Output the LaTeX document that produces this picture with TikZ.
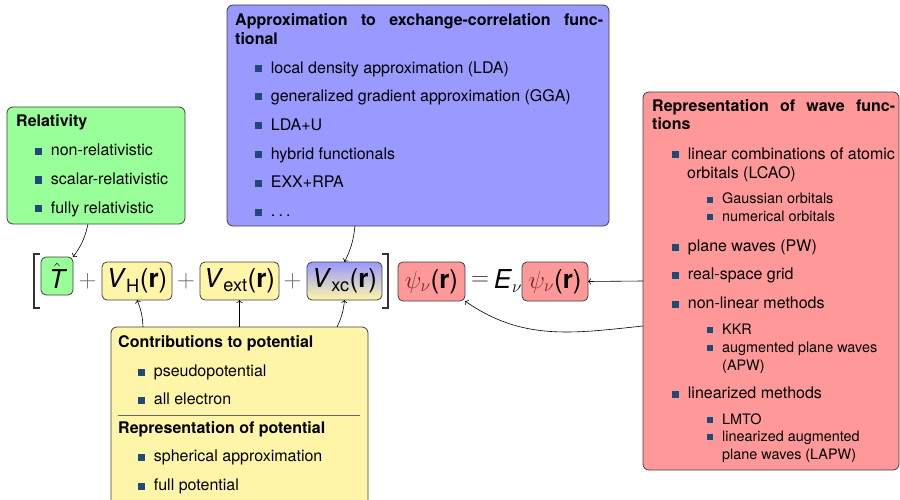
\documentclass[tikz,border=0pt]{standalone}
\usepackage{amsmath}
\usepackage{fontspec}
\setmainfont{TeX Gyre Heros}
\usetikzlibrary{arrows.meta}

\definecolor{relgreen}{HTML}{99FF99}
\definecolor{xcblue}{HTML}{9999FF}
\definecolor{wfred}{HTML}{FF9999}
\definecolor{potyellow}{HTML}{FFF5A8}
\definecolor{bulletblue}{HTML}{1F4A78}
\definecolor{psicol}{HTML}{6E2C2C}
\definecolor{framegray}{HTML}{404040}

% square item bullets
\newcommand{\sqbul}{\raisebox{1pt}{\textcolor{bulletblue}{\rule{7pt}{7pt}}}\hspace{8.7pt}}
\newcommand{\sqsub}{\raisebox{1pt}{\textcolor{bulletblue}{\rule{6pt}{6pt}}}\hspace{9pt}}

\begin{document}
\begin{tikzpicture}[x=1pt,y=-1pt,
  panel/.style={draw=framegray,line width=0.8pt,rounded corners=6pt,anchor=north west,inner sep=0pt,outer sep=0pt},
  itm/.style={anchor=base west,inner sep=0pt,font=\fontsize{16}{19}\selectfont},
  subitm/.style={anchor=base west,inner sep=0pt,font=\fontsize{14.4}{17}\selectfont},
  hdr/.style={anchor=base west,inner sep=0pt,font=\fontsize{16}{19}\selectfont\bfseries},
  eqbox/.style={draw=framegray,line width=0.8pt,rounded corners=5pt,inner sep=0pt,outer sep=0pt,minimum height=38pt,font=\fontsize{26}{30}\selectfont},
  eqsym/.style={inner sep=0pt,font=\fontsize{26}{30}\selectfont},
  conn/.style={->,line width=0.6pt}]
\useasboundingbox (0,0) rectangle (900,500);
\clip (0,0) rectangle (900,500);

% ---- relativity panel
\node[panel,fill=relgreen,minimum width=178pt,minimum height=117pt] (rel) at (7,107) {};
\node[hdr] (relT) at (16,127) {Relativity};
\node[itm] (rel1) at (35,156) {\sqbul non-relativistic};
\node[itm] (rel2) at (35,184.5) {\sqbul scalar-relativistic};
\node[itm] (rel3) at (35,213) {\sqbul fully relativistic};

% ---- exchange-correlation panel
\node[panel,fill=xcblue,minimum width=382pt,minimum height=221pt] (xc) at (227,5) {};
\node[hdr] (xcT1) at (235,26) {\makebox[368pt][s]{Approximation to exchange-correlation func-}};
\node[hdr] (xcT2) at (235,45) {tional};
\node[itm] (xc1) at (255,73.5) {\sqbul local density approximation (LDA)};
\node[itm] (xc2) at (255,101.5) {\sqbul generalized gradient approximation (GGA)};
\node[itm] (xc3) at (255,130.5) {\sqbul LDA+U};
\node[itm] (xc4) at (255,159.5) {\sqbul hybrid functionals};
\node[itm] (xc5) at (255,187.5) {\sqbul EXX+RPA};
\node[itm] (xc6) at (255,216.5) {\sqbul .\hspace{3.2pt}.\hspace{3.2pt}.};

% ---- wave function panel
\node[panel,fill=wfred,minimum width=256pt,minimum height=378pt] (wf) at (643,92) {};
\node[hdr] (wfT1) at (652,112) {\makebox[243pt][s]{Representation of wave func-}};
\node[hdr] (wfT2) at (652,130) {tions};
\node[itm] (wf1) at (672,159.5) {\sqbul linear combinations of atomic};
\node[itm] (wf1b) at (687,178.5) {orbitals (LCAO)};
\node[subitm] (wf1s1) at (707,204) {\sqsub Gaussian orbitals};
\node[subitm] (wf1s2) at (707,221) {\sqsub numerical orbitals};
\node[itm] (wf2) at (672,251.5) {\sqbul plane waves (PW)};
\node[itm] (wf3) at (672,279.5) {\sqbul real-space grid};
\node[itm] (wf4) at (672,308.5) {\sqbul non-linear methods};
\node[subitm] (wf4s1) at (707,334) {\sqsub KKR};
\node[subitm] (wf4s2) at (707,352) {\sqsub augmented plane waves};
\node[subitm] (wf4s2b) at (722,370) {(APW)};
\node[itm] (wf5) at (672,398.5) {\sqbul linearized methods};
\node[subitm] (wf5s1) at (707,424) {\sqsub LMTO};
\node[subitm] (wf5s2) at (707,441) {\sqsub linearized augmented};
\node[subitm] (wf5s2b) at (722,459) {plane waves (LAPW)};

% ---- potential panel
\node[panel,fill=potyellow,minimum width=257pt,minimum height=190pt] (pot) at (111,327) {};
\node[hdr] (potT1) at (118,347) {Contributions to potential};
\node[itm] (pot1) at (138,376.5) {\sqbul pseudopotential};
\node[itm] (pot2) at (138,404.5) {\sqbul all electron};
\draw[framegray!80,line width=0.8pt] (118,415) -- (360,415);
\node[hdr] (potT2) at (118,433) {Representation of potential};
\node[itm] (pot3) at (138,461.5) {\sqbul spherical approximation};
\node[itm] (pot4) at (138,490.5) {\sqbul full potential};

% ---- Kohn-Sham equation
\node[eqbox,fill=relgreen,minimum width=32pt] (T) at (57,276) {$\hat{\mbox{\itshape T}}$};
\node[eqsym,text=black!60] (p1) at (87.5,281) {$+$};
\node[eqbox,fill=potyellow,minimum width=70pt] (VH) at (137,281) {\textit{V}$_{\text{H}}$(\textbf{r})};
\node[eqsym,text=black!60] (p2) at (186,281) {$+$};
\node[eqbox,fill=potyellow,minimum width=79pt] (Vext) at (239.5,281) {\textit{V}$_{\text{ext}}$(\textbf{r})};
\node[eqsym,text=black!60] (p3) at (292.5,281) {$+$};
\node[eqbox,top color=xcblue,bottom color=potyellow,minimum width=75pt] (Vxc) at (344.5,281) {\textit{V}$_{\text{xc}}$(\textbf{r})};
\node[eqbox,fill=wfred,minimum width=67pt,minimum height=39pt] (psi1) at (431.5,281.5) {\textcolor{psicol}{$\psi_\nu$}(\textbf{r})};
\node[eqsym,text=black!80] (eq) at (480,281) {$=$};
\node[eqsym] (E) at (508,281) {\textit{E}$_\nu$};
\node[eqbox,fill=wfred,minimum width=66pt,minimum height=39pt] (psi2) at (555,281.5) {\textcolor{psicol}{$\psi_\nu$}(\textbf{r})};

% square brackets round the operator
\draw[black!80,line width=1.2pt] (40,254) -- (34,254) -- (34,308) -- (40,308);
\draw[black!80,line width=1.2pt] (382,254) -- (388,254) -- (388,308) -- (382,308);

% ---- connectors
\draw[conn] ([xshift=-8pt]rel.south) to[bend left=12] (T.north east);
\draw[conn] ([xshift=-63pt]xc.south) to[bend left=10] (Vxc.north);
\draw[conn] ([xshift=-96.5pt]pot.north) to[bend right=10] (VH.south);
\draw[conn] (pot.north) -- (Vext.south);
\draw[conn] ([xshift=97.5pt]pot.north) to[bend right=10] (Vxc.south);
\draw[conn] (wf.west) -- (psi2.east);
\draw[conn] ([yshift=-45pt]wf.west) to[out=186,in=-35] (psi1.south east);
\end{tikzpicture}
\end{document}
